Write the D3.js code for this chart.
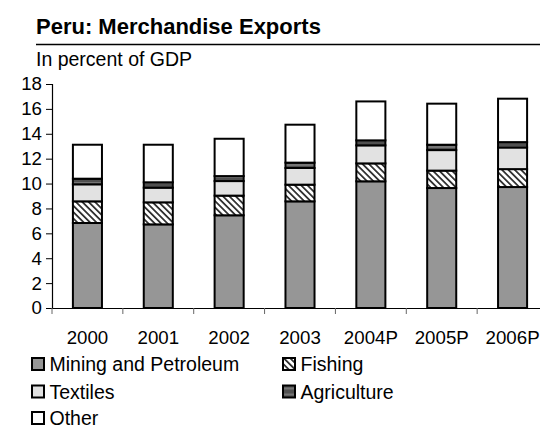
<!DOCTYPE html>
<html><head><meta charset="utf-8">
<script src="https://cdn.jsdelivr.net/npm/d3@7"></script>
<style>
html,body{margin:0;padding:0;background:#fff;}
svg{display:block;font-family:"Liberation Sans",Arial,sans-serif;}
</style></head>
<body><svg id="c" width="540" height="428"></svg>
<script>
const years = ["2000","2001","2002","2003","2004P","2005P","2006P"];
const mining = [6.83, 6.72, 7.45, 8.57, 10.18, 9.64, 9.72];
const fishing = [1.74, 1.77, 1.58, 1.34, 1.44, 1.40, 1.44];
const textiles = [1.37, 1.18, 1.17, 1.34, 1.45, 1.65, 1.74];
const agriculture = [0.45, 0.43, 0.40, 0.43, 0.40, 0.43, 0.43];
const other = [2.73, 3.02, 3.00, 3.05, 3.13, 3.30, 3.49];
const seriesNames = ["Mining and Petroleum","Fishing","Textiles","Agriculture","Other"];
const yTicks = [0,2,4,6,8,10,12,14,16,18];

const svg = d3.select("#c");
const defs = svg.append("defs");
const hatch = defs.append("pattern").attr("id","hatch").attr("patternUnits","userSpaceOnUse")
  .attr("width",4.5).attr("height",4.5).attr("patternTransform","rotate(-45)");
hatch.append("rect").attr("width",4.5).attr("height",4.5).attr("fill","#fff");
hatch.append("rect").attr("width",1.8).attr("height",4.5).attr("fill","#333");
const horiz = defs.append("pattern").attr("id","horiz").attr("patternUnits","userSpaceOnUse")
  .attr("width",6).attr("height",6);
horiz.append("rect").attr("width",6).attr("height",6).attr("fill","#505050");
horiz.append("rect").attr("y",2.5).attr("width",6).attr("height",1).attr("fill","#9a9a9a");

const fills = {"Mining and Petroleum":"#969696","Fishing":"url(#hatch)","Textiles":"#e2e2e2","Agriculture":"url(#horiz)","Other":"#ffffff"};

const table = years.map((y,i)=>({year:y,"Mining and Petroleum":mining[i],"Fishing":fishing[i],"Textiles":textiles[i],"Agriculture":agriculture[i],"Other":other[i]}));
const stack = d3.stack().keys(seriesNames)(table);

const x = d3.scaleBand().domain(years).range([52,548]).padding(0);
const y = d3.scaleLinear().domain([0,18]).range([308,84]);
const bw = x.bandwidth()*0.41;

// title
svg.append("text").attr("x",36).attr("y",34).attr("font-size",22).attr("font-weight","bold").text("Peru: Merchandise Exports");
svg.append("line").attr("x1",36).attr("x2",540).attr("y1",44.5).attr("y2",44.5).attr("stroke","#000").attr("stroke-width",1.5);
svg.append("text").attr("x",36).attr("y",66).attr("font-size",19.5).text("In percent of GDP");

// bars
svg.append("g").selectAll("g").data(stack).join("g")
  .attr("fill",d=>fills[d.key])
  .selectAll("rect").data(d=>d).join("rect")
  .attr("x",d=>x(d.data.year)+x.bandwidth()/2-bw/2)
  .attr("width",bw)
  .attr("y",d=>y(d[1]))
  .attr("height",d=>y(d[0])-y(d[1]))
  .attr("stroke","#000").attr("stroke-width",2);

// y axis
const ya = svg.append("g").attr("transform","translate(52,0)")
  .call(d3.axisLeft(y).tickValues(yTicks).tickSize(6).tickPadding(4).tickFormat(d3.format("d")));
ya.select(".domain").attr("stroke","#000").attr("stroke-width",1.2);
ya.selectAll("line").attr("stroke","#000");
ya.selectAll("text").attr("font-size",18.7).attr("font-family","Liberation Sans, Arial, sans-serif").attr("fill","#000");

// x axis
const xa = svg.append("g").attr("transform","translate(0,308)")
  .call(d3.axisBottom(x).tickSize(0).tickPadding(23));
xa.select(".domain").attr("stroke","#000").attr("stroke-width",1.2);
xa.selectAll("text").attr("font-size",18.7).attr("font-family","Liberation Sans, Arial, sans-serif").attr("fill","#000");
svg.append("g").selectAll("line").data(years).join("line")
  .attr("x1",d=>x(d)).attr("x2",d=>x(d)).attr("y1",308).attr("y2",314)
  .attr("stroke","#666").attr("stroke-width",1);

// legend
const legPos = [[31,364],[282,364],[31,391.5],[282,391.5],[31,418]];
const leg = svg.append("g").selectAll("g").data(seriesNames).join("g")
  .attr("transform",(d,i)=>`translate(${legPos[i][0]},${legPos[i][1]})`);
leg.append("rect").attr("x",1).attr("y",-6).attr("width",12).attr("height",12)
  .attr("fill",d=>fills[d]).attr("stroke","#000").attr("stroke-width",2);
leg.append("text").attr("x",18.5).attr("y",7).attr("font-size",19.5).text(d=>d);
</script></body></html>
